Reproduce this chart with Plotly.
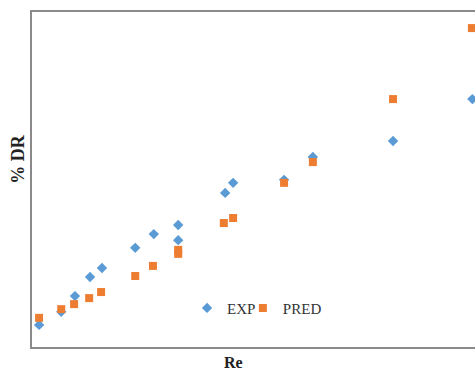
import plotly.graph_objects as go

# Data (arbitrary units; the axes carry no tick labels)
re_exp = [1.6, 6.6, 9.7, 13.1, 15.8, 23.3, 27.5, 33.0, 33.0, 43.6, 45.4, 56.9, 63.4, 81.5, 99.4]
dr_exp = [6.6, 10.5, 15.2, 20.9, 23.6, 29.6, 33.7, 36.4, 31.9, 46.0, 49.0, 49.9, 56.7, 61.5, 74.0]

re_pred = [1.6, 6.6, 9.5, 12.9, 15.6, 23.3, 27.3, 33.0, 33.0, 43.3, 45.4, 56.9, 63.4, 81.5, 99.3]
dr_pred = [8.7, 11.3, 12.8, 14.6, 16.4, 21.2, 24.2, 29.0, 27.8, 37.0, 38.5, 49.0, 55.2, 74.0, 95.2]

series_names = ["EXP", "PRED"]
x_title = "Re"
y_title = "% DR"

x_range = [0, 100]
y_range = [0, 100]

BLUE = "#5B9BD5"
ORANGE = "#ED7D31"
FRAME = "#8a8a8a"
SERIF = "Liberation Serif, Times New Roman, serif"

fig = go.Figure()
fig.add_trace(go.Scatter(
    x=re_exp, y=dr_exp, mode="markers", name=series_names[0], legend="legend",
    marker=dict(symbol="diamond", size=8, color=BLUE),
))
fig.add_trace(go.Scatter(
    x=re_pred, y=dr_pred, mode="markers", name=series_names[1], legend="legend2",
    marker=dict(symbol="square", size=8, color=ORANGE),
))

legend_style = dict(
    orientation="h", yanchor="middle", xanchor="left", y=0.116,
    bgcolor="rgba(0,0,0,0)", font=dict(family=SERIF, size=15, color="#333333"),
    itemwidth=30,
)

fig.update_layout(
    width=475, height=371,
    margin=dict(l=32, r=0, t=12, b=24, autoexpand=False),
    paper_bgcolor="white", plot_bgcolor="white",
    showlegend=True,
    legend=dict(legend_style, x=0.35),
    legend2=dict(legend_style, x=0.476),
    xaxis=dict(
        range=x_range, showgrid=False, zeroline=False, showticklabels=False, ticks="",
        showline=True, linecolor=FRAME, linewidth=2, mirror=True,
    ),
    yaxis=dict(
        range=y_range, showgrid=False, zeroline=False, showticklabels=False, ticks="",
        showline=True, linecolor=FRAME, linewidth=2, mirror=False,
    ),
    annotations=[
        dict(text="<b>" + x_title + "</b>", xref="paper", yref="paper",
             x=0.454, y=-0.047, xanchor="center", yanchor="middle", showarrow=False,
             font=dict(family=SERIF, size=16, color="#222222")),
        dict(text="<b>" + y_title + "</b>", xref="paper", yref="paper", textangle=-90,
             x=-0.031, y=0.56, xanchor="center", yanchor="middle", showarrow=False,
             font=dict(family=SERIF, size=18, color="#222222")),
    ],
)

fig.write_html(
    "out.html",
    config={"displayModeBar": False},
    post_script="document.body.style.margin='0';document.body.style.overflow='hidden';",
)
